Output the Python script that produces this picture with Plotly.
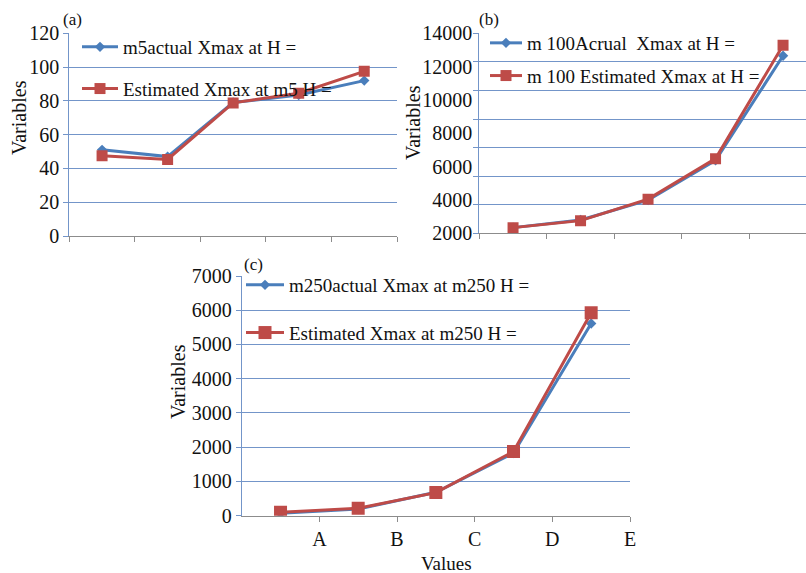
import plotly.graph_objects as go

# ---------------- data ----------------
categories = ["A", "B", "C", "D", "E"]

a_actual = [51, 47, 79, 83.5, 92]
a_estimated = [47.5, 45.3, 78.8, 84.5, 97.5]

b_actual = [2340, 2800, 3990, 6380, 12650]
b_estimated = [2340, 2760, 4050, 6480, 13280]

c_actual = [70, 195, 684, 1826, 5615]
c_estimated = [98, 215, 674, 1875, 5928]

a_names = ["m5actual Xmax at H =", "Estimated Xmax at m5 H ="]
b_names = ["m 100Acrual  Xmax at H =", "m 100 Estimated Xmax at H ="]
c_names = ["m250actual Xmax at m250 H =", "Estimated Xmax at m250 H ="]

a_ticks = [0, 20, 40, 60, 80, 100, 120]
b_ticks = [2000, 4000, 6000, 8000, 10000, 12000, 14000]
c_ticks = [0, 1000, 2000, 3000, 4000, 5000, 6000, 7000]

# ---------------- style ----------------
W, H = 806, 573
FONT = "Liberation Serif, Times New Roman, serif"
BLUE = "#4a7ebb"
RED = "#be4b48"
GRID = "#7395c9"
AXIS_X = "#8c8c8c"
TICKSIZE = 20

idx = list(range(len(categories)))
boundaries = [i - 0.5 for i in range(len(categories) + 1)]

def px(x):
    return x / W

def py(y):
    return 1 - y / H

fig = go.Figure()

def add_pair(xa, ya, actual, est, names, legend, sq):
    fig.add_trace(go.Scatter(
        x=idx, y=actual, name=names[0], mode="lines+markers",
        line=dict(color=BLUE, width=3),
        marker=dict(symbol="diamond", size=8, color=BLUE),
        xaxis=xa, yaxis=ya, legend=legend, legendgroup=legend + "a"))
    fig.add_trace(go.Scatter(
        x=idx, y=est, name=names[1], mode="lines+markers",
        line=dict(color=RED, width=3),
        marker=dict(symbol="square", size=sq, color=RED),
        xaxis=xa, yaxis=ya, legend=legend, legendgroup=legend + "b"))

add_pair("x", "y", a_actual, a_estimated, a_names, "legend", 11)
add_pair("x2", "y2", b_actual, b_estimated, b_names, "legend2", 11)
add_pair("x3", "y3", c_actual, c_estimated, c_names, "legend3", 13)

# invisible trace to carry the label axis of panel (b)
fig.add_trace(go.Scatter(x=[None], y=[None], xaxis="x2", yaxis="y4",
                         showlegend=False, hoverinfo="skip"))

xcommon = dict(showgrid=False, zeroline=False, showline=True, linecolor=AXIS_X,
               linewidth=1, ticks="outside", ticklen=5, tickcolor=AXIS_X,
               tickmode="array", tickvals=boundaries, fixedrange=True,
               automargin=False)
ycommon = dict(showgrid=True, gridcolor=GRID, gridwidth=1, zeroline=False,
               showline=True, linecolor=GRID, linewidth=1, ticks="outside",
               ticklen=5, tickcolor=GRID, tickfont=dict(size=TICKSIZE, color="#111"),
               fixedrange=True, automargin=False)

# grid values of panel (b): seven equal bands between the bottom and top labels
b_grid = [b_ticks[0] + k * (b_ticks[-1] - b_ticks[0]) / 7 for k in range(8)]

legfont = dict(size=19, family=FONT, color="#111")

fig.update_layout(
    width=W, height=H, margin=dict(l=0, r=0, t=0, b=0, pad=0, autoexpand=False),
    paper_bgcolor="white", plot_bgcolor="white",
    font=dict(family=FONT, size=18, color="#111"),
    xaxis=dict(**xcommon, domain=[px(69.3), px(397)], range=[-0.5, 4.5],
               showticklabels=False, anchor="y"),
    yaxis=dict(**ycommon, domain=[py(236), py(33.3)], range=[0, 120],
               tickmode="array", tickvals=a_ticks, anchor="x"),
    xaxis2=dict(**xcommon, domain=[px(479.3), 1.0], range=[-0.5, 4.34],
                showticklabels=False, anchor="y2"),
    yaxis2=dict(**ycommon, domain=[py(233.3), py(33.3)], range=[b_ticks[0], b_ticks[-1]],
                tickmode="array", tickvals=b_grid, showticklabels=False, anchor="x2"),
    yaxis4=dict(overlaying="y2", anchor="x2", side="left", range=[b_ticks[0], b_ticks[-1]],
                tickmode="array", tickvals=b_ticks, ticktext=[str(v) for v in b_ticks],
                showgrid=False, zeroline=False, showline=False, ticks="",
                tickfont=dict(size=TICKSIZE, color="#111"),
                ticklabelstandoff=6, fixedrange=True, automargin=False),
    xaxis3=dict(**{k: v for k, v in xcommon.items() if k != "tickvals"},
                domain=[px(241.7), px(630)], range=[-0.5, 4.5],
                tickvals=[i + 0.5 for i in idx], ticktext=categories,
                tickfont=dict(size=TICKSIZE, color="#111"), anchor="y3"),
    yaxis3=dict(**ycommon, domain=[py(515.7), py(276)], range=[0, 7000],
                tickmode="array", tickvals=c_ticks, anchor="x3"),
    legend=dict(x=px(77), y=py(28), xanchor="left", yanchor="top",
                bgcolor="rgba(0,0,0,0)", tracegroupgap=14, itemwidth=36,
                font=legfont),
    legend2=dict(x=px(485), y=py(24), xanchor="left", yanchor="top",
                 bgcolor="rgba(0,0,0,0)", tracegroupgap=5, itemwidth=32,
                 font=legfont),
    legend3=dict(x=px(241), y=py(266), xanchor="left", yanchor="top",
                 bgcolor="rgba(0,0,0,0)", tracegroupgap=20, itemwidth=38,
                 font=legfont),
    showlegend=True,
)

ann = [
    ("(a)", 72, 19, 0, 17),
    ("(b)", 489, 19, 0, 17),
    ("(c)", 253, 264, 0, 17),
    ("Variables", 18.5, 117.5, -90, 20),
    ("Variables", 413, 123, -90, 20),
    ("Variables", 178, 382, -90, 20),
    ("Values", 447, 563, 0, 19),
]
for text, x, y, ang, size in ann:
    fig.add_annotation(text=text, x=px(x), y=py(y), xref="paper", yref="paper",
                       xanchor="center", yanchor="middle", showarrow=False,
                       textangle=ang, font=dict(size=size, family=FONT, color="#111"))

fig.write_html("out.html")
